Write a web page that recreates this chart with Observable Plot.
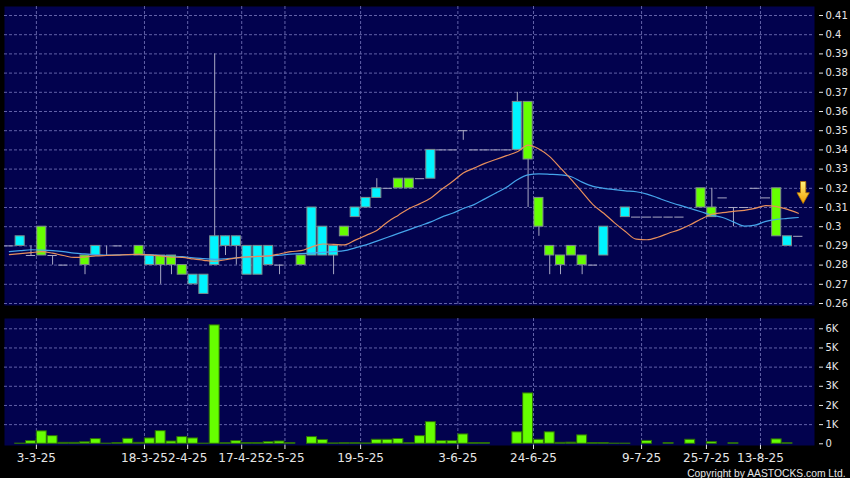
<!DOCTYPE html>
<html><head><meta charset="utf-8">
<script src="https://cdn.jsdelivr.net/npm/d3@7"></script>
<script src="https://cdn.jsdelivr.net/npm/@observablehq/plot@0.6"></script>
<style>
html,body{margin:0;padding:0;background:#000;}
#chart{width:850px;height:478px;overflow:hidden;background:#000;}
#chart svg{display:block;}
</style></head><body><div id="chart"></div>
<script>
// ---- data (one slot per trading session shown) ----
const openP  = [0.29,0.29,0.285,0.30,0.285,0.28,null,0.285,0.285,0.285,0.29,null,0.29,0.28,0.285,0.285,0.28,0.27,0.265,0.28,0.29,0.29,0.275,0.275,0.28,0.28,null,0.285,0.285,0.285,0.285,0.30,0.305,0.31,0.315,0.32,0.325,0.325,0.325,0.325,0.34,0.34,0.35,0.34,0.34,0.34,0.34,0.34,0.365,0.315,0.29,0.285,0.29,0.285,0.28,0.285,null,0.305,0.305,0.305,0.305,0.305,0.305,null,0.32,0.31,0.315,0.31,0.31,0.32,0.315,0.32,0.29,0.295];
const highP  = [0.29,0.295,0.29,0.30,0.285,0.28,null,0.285,0.29,0.29,0.29,null,0.29,0.285,0.285,0.285,0.28,0.275,0.275,0.39,0.295,0.295,0.29,0.29,0.29,0.28,null,0.285,0.31,0.30,0.29,0.30,0.31,0.315,0.325,0.32,0.325,0.325,0.325,0.34,0.34,0.34,0.35,0.34,0.34,0.34,0.34,0.37,0.365,0.315,0.29,0.285,0.29,0.285,0.28,0.30,null,0.31,0.305,0.305,0.305,0.305,0.305,null,0.32,0.32,0.315,0.31,0.31,0.32,0.315,0.32,0.295,0.295];
const lowP   = [0.29,0.29,0.285,0.285,0.28,0.28,null,0.275,0.285,0.285,0.29,null,0.285,0.28,0.27,0.275,0.275,0.27,0.265,0.28,0.285,0.28,0.275,0.275,0.28,0.275,null,0.28,0.285,0.285,0.275,0.295,0.305,0.31,0.315,0.32,0.32,0.32,0.325,0.325,0.34,0.34,0.345,0.34,0.34,0.34,0.34,0.34,0.31,0.295,0.275,0.275,0.285,0.275,0.28,0.285,null,0.305,0.305,0.305,0.305,0.305,0.305,null,0.31,0.305,0.315,0.30,0.31,0.32,0.315,0.295,0.29,0.295];
const closeP = [0.29,0.295,0.285,0.285,0.285,0.28,null,0.28,0.29,0.285,0.29,null,0.285,0.285,0.28,0.28,0.275,0.275,0.275,0.295,0.295,0.295,0.29,0.29,0.29,0.28,null,0.28,0.31,0.30,0.29,0.295,0.31,0.315,0.32,0.32,0.32,0.32,0.325,0.34,0.34,0.34,0.35,0.34,0.34,0.34,0.34,0.365,0.335,0.30,0.285,0.28,0.285,0.28,0.28,0.30,null,0.31,0.305,0.305,0.305,0.305,0.305,null,0.31,0.305,0.315,0.31,0.31,0.32,0.315,0.295,0.295,0.295];
const volume = [0,10,140,650,400,50,50,80,245,10,40,260,50,280,660,120,350,280,10,6180,30,140,40,40,90,120,40,0,350,200,20,30,30,20,210,210,250,30,400,1130,140,140,490,40,40,0,0,600,2630,210,600,50,60,440,40,40,10,10,0,150,0,40,0,210,0,90,0,30,0,0,0,230,30,0];
const maShort = [0.2855,0.286,0.2865,0.287,0.2862,0.285,0.284,0.2842,0.2848,0.285,0.2852,0.2855,0.2856,0.2853,0.2848,0.2842,0.284,0.2832,0.2825,0.282,0.2828,0.2838,0.2843,0.2845,0.2848,0.2858,0.287,0.2875,0.2895,0.291,0.2908,0.2905,0.293,0.2955,0.298,0.3025,0.306,0.3095,0.312,0.315,0.3195,0.3235,0.328,0.3305,0.333,0.335,0.337,0.339,0.3425,0.3405,0.3365,0.3305,0.3245,0.318,0.3115,0.307,0.302,0.2975,0.2935,0.2932,0.2945,0.2966,0.2985,0.301,0.304,0.3065,0.3073,0.308,0.3085,0.3095,0.311,0.3105,0.309,0.307];
const maLong = [0.287,0.2875,0.288,0.2878,0.2875,0.287,0.2862,0.2858,0.2855,0.2852,0.2853,0.2855,0.2856,0.2853,0.285,0.2847,0.2844,0.2838,0.2834,0.283,0.2833,0.2838,0.2842,0.2845,0.2847,0.2852,0.2857,0.286,0.2862,0.2866,0.287,0.2875,0.289,0.2905,0.2925,0.2945,0.2965,0.2985,0.3005,0.3025,0.305,0.307,0.3095,0.3115,0.3145,0.3175,0.3205,0.3245,0.327,0.3275,0.3273,0.327,0.326,0.3232,0.321,0.32,0.3193,0.3187,0.3182,0.317,0.315,0.313,0.3112,0.3095,0.3078,0.306,0.3048,0.3025,0.3003,0.3008,0.3028,0.3038,0.3043,0.3048];
const tickSlots  = [2,12,16,21,25,32,41,48,58,64,69];
const tickLabels = ["3-3-25","18-3-25","2-4-25","17-4-25","2-5-25","19-5-25","3-6-25","24-6-25","9-7-25","25-7-25","13-8-25"];
const priceTicks = d3.range(26, 42).map(v => v / 100);
const volumeTicks = [0, 1000, 2000, 3000, 4000, 5000, 6000];
const signal = [{slot: 73.45, price: 0.3178}];
const copyright = "Copyright by AASTOCKS.com Ltd.";

// ---- derived tables ----
const slots = d3.range(openP.length);
const candles = slots.filter(i => openP[i] != null).map(i => ({slot: i, o: openP[i], h: highP[i], l: lowP[i], c: closeP[i]}));
const bodies = candles.filter(d => d.o !== d.c);
const flats = candles.filter(d => d.o === d.c);
const wicks = candles.filter(d => d.h > Math.max(d.o, d.c) || d.l < Math.min(d.o, d.c));
const vols = slots.filter(i => volume[i] > 0).map(i => ({slot: i, v: volume[i]}));
const gridX = tickSlots.map(s => s + 0.5);
const labelAt = new Map(gridX.map((g, i) => [g, tickLabels[i]]));

const UP = "#00f4ff", DOWN = "#66ff00", PANEL = "#02024e", GRID = "#6262a8";
const xDomain = [-0.45, 74.5];
const font = {fontFamily: "DejaVu Sans, sans-serif", fontSize: "10px", color: "#e6e6e6", background: "#000", overflow: "visible"};

const arrowSymbol = {
  draw(ctx, size) {
    const r = Math.sqrt(size / Math.PI);
    const sw = r * 0.24, hw = r * 0.56, neck = 0.02 * r;
    ctx.moveTo(-sw, -r); ctx.lineTo(sw, -r); ctx.lineTo(sw, neck); ctx.lineTo(hw, neck);
    ctx.lineTo(0, r); ctx.lineTo(-hw, neck); ctx.lineTo(-sw, neck); ctx.closePath();
  }
};

const price = Plot.plot({
  width: 850, height: 310, marginLeft: 4, marginRight: 36, marginTop: 6, marginBottom: 5,
  style: font,
  x: {domain: xDomain, axis: null},
  y: {domain: [0.258958, 0.414688], axis: null},
  marks: [
    Plot.frame({fill: PANEL}),
    Plot.ruleY(priceTicks, {stroke: GRID, strokeDasharray: "3,2"}),
    Plot.ruleX(gridX, {stroke: GRID, strokeDasharray: "3,2"}),
    Plot.ruleX(wicks, {x: "slot", y1: "l", y2: "h", stroke: "#a9a9c4", strokeWidth: 1}),
    Plot.ruleY(flats, {y: "o", x1: d => d.slot - 0.43, x2: d => d.slot + 0.43, stroke: "#a9a9c4", strokeWidth: 1}),
    Plot.rect(bodies, {x1: d => d.slot - 0.42, x2: d => d.slot + 0.42, y1: "o", y2: "c",
      fill: d => d.c > d.o ? UP : DOWN, stroke: "#7f8c8c", strokeWidth: 1}),
    Plot.line(slots, {x: i => i, y: i => maLong[i], stroke: "#45a4ea", strokeWidth: 1.2, curve: "monotone-x"}),
    Plot.line(slots, {x: i => i, y: i => maShort[i], stroke: "#e88f5c", strokeWidth: 1.2, curve: "monotone-x"}),
    Plot.dot(signal, {x: "slot", y: "price", symbol: arrowSymbol, r: 11, fill: "url(#arrowGrad)", stroke: "#b87400", strokeWidth: 0.8}),
    Plot.axisY(priceTicks, {anchor: "right", label: null, tickSize: 4, tickPadding: 3, dx: 4, tickFormat: d => String(d), fontSize: 10})
  ]
});

const defs = document.createElementNS("http://www.w3.org/2000/svg", "defs");
defs.innerHTML = '<linearGradient id="arrowGrad" x1="0" y1="0" x2="0" y2="1"><stop offset="0" stop-color="#fff27a"/><stop offset="1" stop-color="#f2a000"/></linearGradient>';
price.insertBefore(defs, price.firstChild);

const vol = Plot.plot({
  width: 850, height: 168, marginLeft: 4, marginRight: 36, marginTop: 8, marginBottom: 33,
  style: font,
  x: {domain: xDomain, axis: null},
  y: {domain: [-89, 6537], axis: null},
  marks: [
    Plot.frame({fill: PANEL}),
    Plot.ruleY(volumeTicks.slice(1), {stroke: GRID, strokeDasharray: "3,2"}),
    Plot.ruleX(gridX, {stroke: GRID, strokeDasharray: "3,2"}),
    Plot.rect(vols, {x1: d => d.slot - 0.46, x2: d => d.slot + 0.46, y1: 0, y2: "v", fill: DOWN, stroke: "#2d6e08", strokeWidth: 1}),
    Plot.axisY(volumeTicks, {anchor: "right", label: null, tickSize: 4, tickPadding: 3, dx: 4, tickFormat: d => d === 0 ? "0" : d / 1000 + "K", fontSize: 10}),
    Plot.axisX(gridX, {anchor: "bottom", label: null, tickSize: 4, tickPadding: 4, tickFormat: d => labelAt.get(d), fontSize: 12}),
    Plot.text([copyright], {text: d => d, frameAnchor: "bottom-right", dx: 31, dy: 31, textAnchor: "end", lineAnchor: "bottom", fill: "#e6e6e6", fontSize: 10.3, fontFamily: "Liberation Sans, Arial, sans-serif"})
  ]
});

const root = document.getElementById("chart");
root.appendChild(price);
root.appendChild(vol);
</script>
</body></html>
